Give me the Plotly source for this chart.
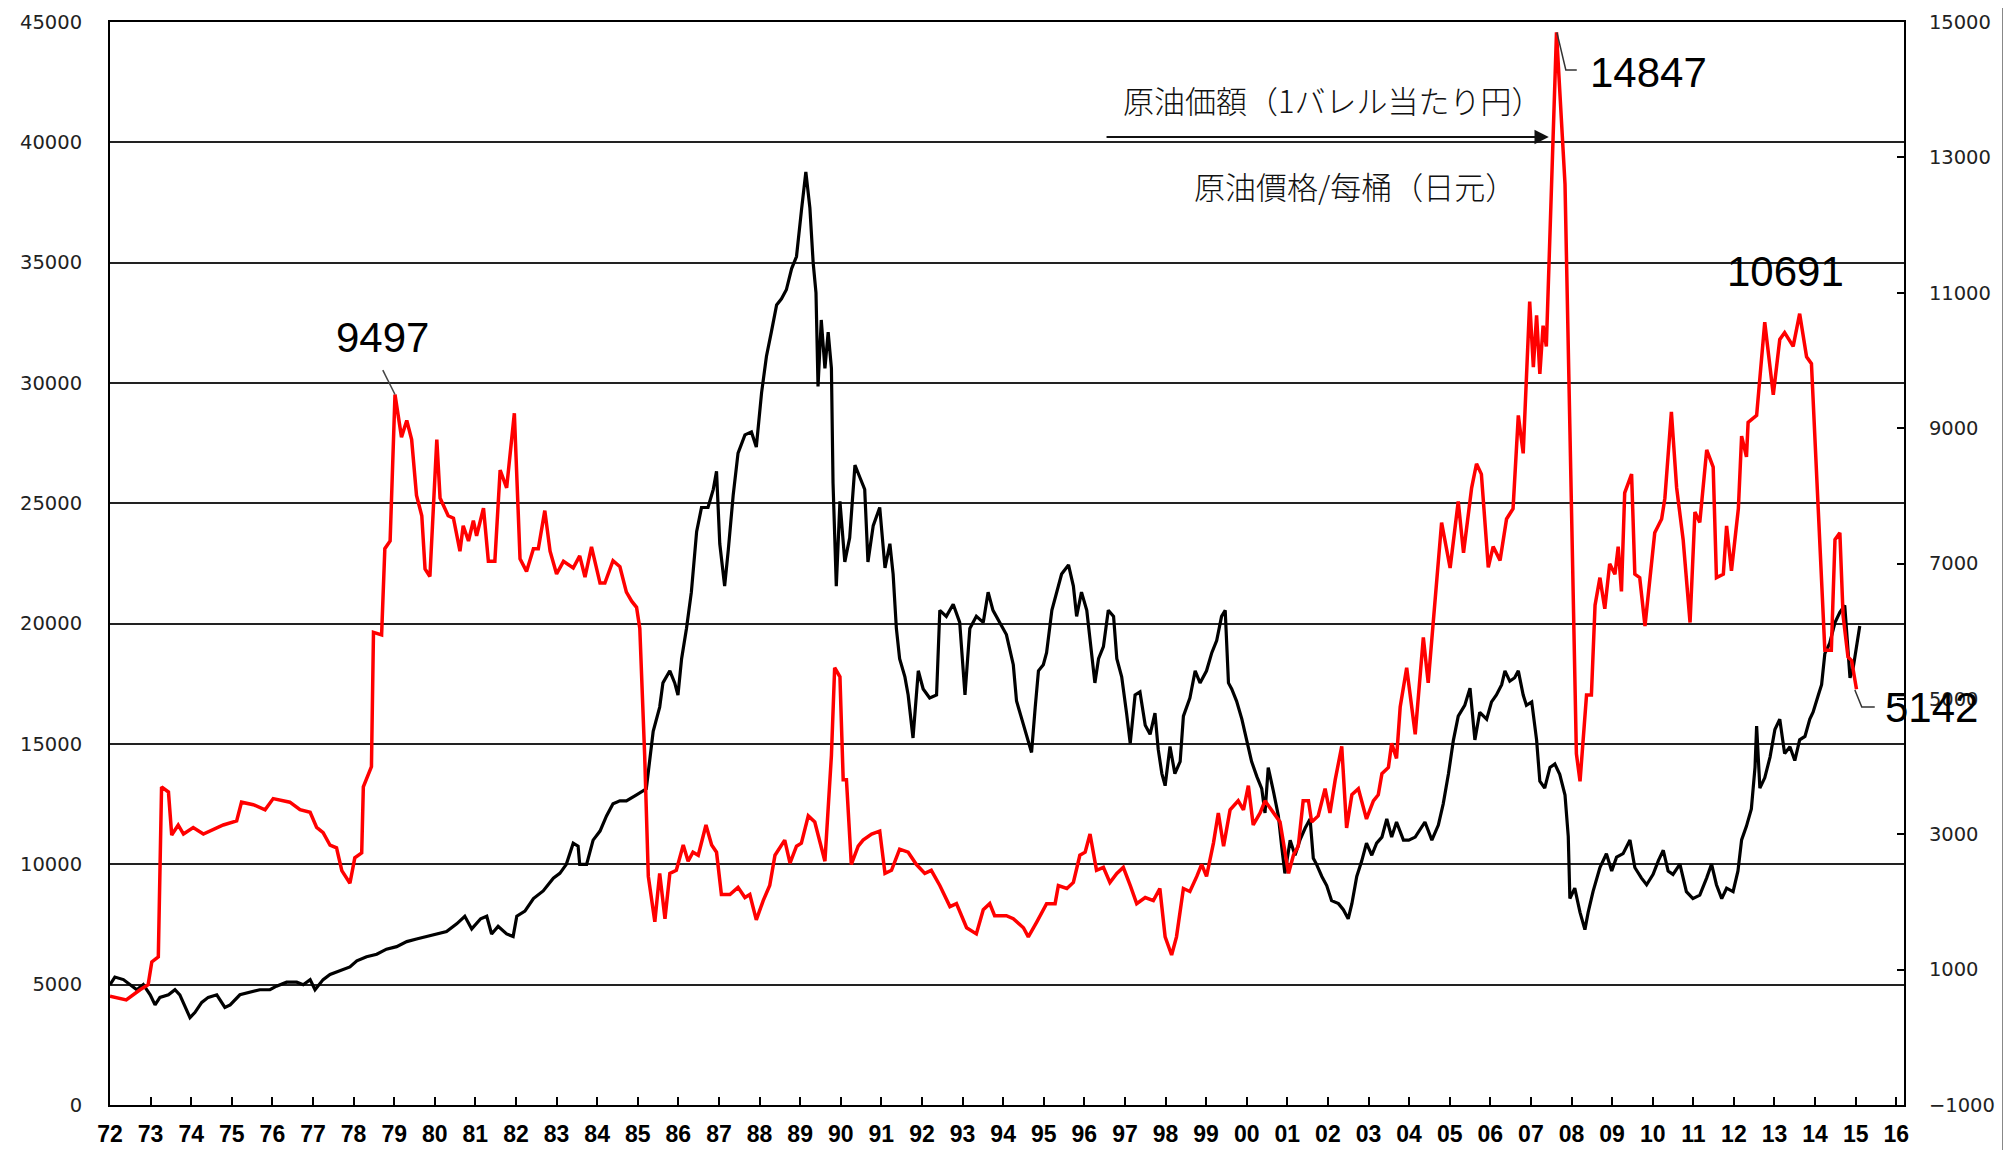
import plotly.graph_objects as go

# ---------------- data ----------------
tick_years = list(range(1972, 2017))
tick_labels = [f"{y % 100:02d}" for y in tick_years]

left_ticks = list(range(0, 45001, 5000))
right_ticks = list(range(-1000, 15001, 2000))

# Nikkei 225 (left axis)
nikkei_x = [
    1972.0, 1972.12, 1972.33, 1972.49, 1972.66, 1972.82, 1972.99, 1973.11, 1973.23, 1973.44,
    1973.6, 1973.72, 1973.85, 1973.97, 1974.09, 1974.26, 1974.42, 1974.63, 1974.83, 1974.96,
    1975.2, 1975.45, 1975.69, 1975.94, 1976.1, 1976.35, 1976.6, 1976.76, 1976.93, 1977.05,
    1977.25, 1977.42, 1977.66, 1977.91, 1978.08, 1978.32, 1978.57, 1978.81, 1979.06, 1979.31,
    1979.55, 1979.8, 1980.05, 1980.29, 1980.54, 1980.74, 1980.91, 1981.13, 1981.28, 1981.4,
    1981.56, 1981.77, 1981.93, 1982.02, 1982.22, 1982.43, 1982.67, 1982.92, 1983.08, 1983.24,
    1983.41, 1983.53, 1983.57, 1983.74, 1983.9, 1984.07, 1984.23, 1984.39, 1984.56, 1984.72,
    1984.97, 1985.21, 1985.38, 1985.54, 1985.62, 1985.79, 1985.91, 1985.99, 1986.08, 1986.2,
    1986.32, 1986.45, 1986.57, 1986.73, 1986.86, 1986.94, 1987.02, 1987.14, 1987.23, 1987.35,
    1987.47, 1987.64, 1987.8, 1987.92, 1988.05, 1988.17, 1988.29, 1988.42, 1988.54, 1988.66,
    1988.79, 1988.91, 1989.03, 1989.14, 1989.24, 1989.32, 1989.39, 1989.44, 1989.52, 1989.61,
    1989.69, 1989.77, 1989.81, 1989.89, 1989.98, 1990.1, 1990.22, 1990.35, 1990.47, 1990.59,
    1990.67, 1990.8, 1990.96, 1991.09, 1991.21, 1991.29, 1991.37, 1991.45, 1991.58, 1991.66,
    1991.78, 1991.91, 1992.03, 1992.19, 1992.36, 1992.44, 1992.6, 1992.77, 1992.93, 1993.06,
    1993.18, 1993.34, 1993.51, 1993.63, 1993.75, 1993.92, 1994.08, 1994.25, 1994.33, 1994.46,
    1994.58, 1994.7, 1994.79, 1994.87, 1994.99, 1995.07, 1995.2, 1995.32, 1995.44, 1995.61,
    1995.73, 1995.81, 1995.93, 1996.06, 1996.18, 1996.26, 1996.35, 1996.47, 1996.59, 1996.72,
    1996.8, 1996.92, 1997.04, 1997.13, 1997.25, 1997.37, 1997.5, 1997.62, 1997.74, 1997.82,
    1997.91, 1997.99, 1998.11, 1998.23, 1998.36, 1998.44, 1998.6, 1998.73, 1998.85, 1999.01,
    1999.14, 1999.26, 1999.38, 1999.47, 1999.55, 1999.63, 1999.75, 1999.88, 2000.0, 2000.12,
    2000.25, 2000.37, 2000.45, 2000.53, 2000.66, 2000.78, 2000.86, 2000.94, 2001.07, 2001.19,
    2001.31, 2001.44, 2001.56, 2001.64, 2001.72, 2001.85, 2001.97, 2002.09, 2002.26, 2002.38,
    2002.5, 2002.59, 2002.71, 2002.83, 2002.95, 2003.08, 2003.2, 2003.33, 2003.45, 2003.57,
    2003.69, 2003.86, 2003.99, 2004.15, 2004.39, 2004.56, 2004.72, 2004.84, 2004.97, 2005.09,
    2005.21, 2005.37, 2005.5, 2005.62, 2005.74, 2005.91, 2006.03, 2006.15, 2006.28, 2006.36,
    2006.48, 2006.6, 2006.69, 2006.81, 2006.89, 2007.02, 2007.14, 2007.22, 2007.34, 2007.47,
    2007.59, 2007.71, 2007.84, 2007.92, 2007.96, 2008.08, 2008.21, 2008.33, 2008.41, 2008.53,
    2008.7, 2008.86, 2008.99, 2009.11, 2009.27, 2009.44, 2009.56, 2009.72, 2009.85, 2010.01,
    2010.14, 2010.26, 2010.38, 2010.5, 2010.67, 2010.83, 2010.99, 2011.16, 2011.33, 2011.45,
    2011.57, 2011.7, 2011.82, 2011.98, 2012.1, 2012.19, 2012.31, 2012.43, 2012.52, 2012.56,
    2012.64, 2012.76, 2012.89, 2013.01, 2013.13, 2013.25, 2013.38, 2013.5, 2013.62, 2013.75,
    2013.87, 2013.95, 2014.08, 2014.16, 2014.24, 2014.36, 2014.49, 2014.61, 2014.73, 2014.79,
    2014.86, 2014.94, 2015.02, 2015.1,
]
nikkei_y = [
    5000, 5316, 5211, 5000, 4789, 5000, 4579, 4158, 4473, 4579,
    4789, 4579, 4052, 3631, 3842, 4263, 4473, 4579, 4052, 4158,
    4579, 4684, 4789, 4789, 4937, 5105, 5105, 5000, 5211, 4789,
    5211, 5421, 5569, 5737, 5990, 6158, 6264, 6474, 6580, 6790,
    6895, 7001, 7106, 7211, 7527, 7843, 7317, 7738, 7843, 7106,
    7422, 7106, 7001, 7843, 8054, 8580, 8896, 9423, 9623, 10000,
    10880, 10754, 10000, 10000, 11005, 11382, 12010, 12513, 12639, 12639,
    12890, 13141, 15529, 16534, 17539, 18042, 17539, 17036, 18544, 19800,
    21309, 23822, 24827, 24827, 25581, 26335, 23319, 21560, 23068, 25330,
    27089, 27843, 27968, 27340, 29602, 31110, 32115, 33246, 33497, 33874,
    34754, 35256, 37141, 38774, 37266, 35005, 33748, 29853, 32618, 30608,
    32115, 30608, 25832, 21560, 25079, 22565, 23570, 26586, 26083, 25581,
    22565, 24073, 24827, 22314, 23319, 22062, 19800, 18544, 17790, 17036,
    15251, 18042, 17288, 16911, 17036, 20555, 20304, 20806, 20052, 17036,
    19800, 20304, 20052, 21309, 20555, 20052, 19549, 18293, 16785, 16032,
    15277, 14649, 16534, 18042, 18293, 18795, 20555, 21309, 22062, 22439,
    21560, 20304, 21309, 20555, 18795, 17539, 18544, 19047, 20555, 20304,
    18544, 17790, 16283, 15026, 17036, 17162, 15780, 15403, 16283, 14775,
    13770, 13267, 14900, 13770, 14272, 16157, 16911, 18042, 17539, 18042,
    18795, 19298, 20304, 20555, 17539, 17288, 16785, 16032, 15152, 14272,
    13644, 13141, 12136, 14021, 13016, 12010, 10754, 9623, 11005, 10377,
    11005, 11508, 11885, 10251, 10000, 9497, 9120, 8492, 8366, 8115,
    7738, 8366, 9497, 10126, 10880, 10377, 10880, 11131, 11885, 11131,
    11759, 11005, 11005, 11131, 11759, 11005, 11633, 12513, 13770, 15152,
    16157, 16605, 17322, 15172, 16319, 16032, 16749, 17036, 17466, 18039,
    17609, 17752, 18039, 17036, 16605, 16749, 15172, 13452, 13165, 14025,
    14169, 13739, 12878, 11158, 8578, 9008, 8005, 7288, 8005, 8865,
    9868, 10442, 9725, 10298, 10442, 11015, 9868, 9438, 9152, 9582,
    10155, 10585, 9725, 9582, 10012, 8865, 8578, 8722, 9438, 10012,
    9152, 8578, 9008, 8865, 9725, 11015, 11588, 12305, 14025, 15745,
    13165, 13595, 14455, 15602, 16032, 14599, 14885, 14312, 15172, 15315,
    16032, 16319, 17036, 17466, 18756, 19186, 20046, 20476, 20763, 19186,
    17752, 18183, 19043, 19903,
]

# Crude oil price, yen per barrel (right axis)
oil_x = [
    1972.0, 1972.4, 1972.74, 1972.94, 1973.03, 1973.19, 1973.27, 1973.44, 1973.52, 1973.68,
    1973.81, 1974.05, 1974.3, 1974.79, 1975.12, 1975.24, 1975.53, 1975.82, 1976.02, 1976.43,
    1976.68, 1976.93, 1977.09, 1977.25, 1977.42, 1977.58, 1977.71, 1977.91, 1978.03, 1978.2,
    1978.24, 1978.44, 1978.49, 1978.69, 1978.77, 1978.9, 1979.02, 1979.18, 1979.31, 1979.43,
    1979.55, 1979.68, 1979.76, 1979.88, 1980.05, 1980.13, 1980.33, 1980.46, 1980.62, 1980.7,
    1980.83, 1980.95, 1981.03, 1981.2, 1981.32, 1981.48, 1981.61, 1981.77, 1981.96, 1982.1,
    1982.26, 1982.43, 1982.55, 1982.71, 1982.84, 1983.0, 1983.17, 1983.41, 1983.57, 1983.7,
    1983.86, 1984.07, 1984.19, 1984.39, 1984.56, 1984.72, 1984.85, 1984.97, 1985.05, 1985.17,
    1985.26, 1985.42, 1985.54, 1985.67, 1985.79, 1985.95, 1986.12, 1986.24, 1986.36, 1986.49,
    1986.68, 1986.82, 1986.94, 1987.06, 1987.27, 1987.47, 1987.64, 1987.76, 1987.92, 1988.09,
    1988.25, 1988.38, 1988.62, 1988.75, 1988.91, 1989.03, 1989.2, 1989.36, 1989.61, 1989.77,
    1989.85, 1989.98, 1990.06, 1990.14, 1990.26, 1990.43, 1990.55, 1990.76, 1990.96, 1991.09,
    1991.25, 1991.45, 1991.66, 1991.86, 1992.07, 1992.23, 1992.44, 1992.69, 1992.85, 1993.1,
    1993.34, 1993.51, 1993.67, 1993.79, 1994.08, 1994.25, 1994.5, 1994.62, 1994.83, 1995.07,
    1995.28, 1995.36, 1995.57, 1995.73, 1995.89, 1996.02, 1996.14, 1996.3, 1996.47, 1996.63,
    1996.8, 1996.96, 1997.13, 1997.29, 1997.5, 1997.7, 1997.86, 1997.99, 1998.15, 1998.27,
    1998.44, 1998.6, 1998.77, 1998.89, 1999.01, 1999.18, 1999.3, 1999.43, 1999.59, 1999.79,
    1999.92, 2000.04, 2000.16, 2000.33, 2000.45, 2000.66, 2000.82, 2001.03, 2001.15, 2001.27,
    2001.39, 2001.52, 2001.6, 2001.76, 2001.93, 2002.05, 2002.18, 2002.34, 2002.46, 2002.59,
    2002.75, 2002.95, 2003.12, 2003.24, 2003.33, 2003.49, 2003.57, 2003.69, 2003.78, 2003.94,
    2004.15, 2004.35, 2004.47, 2004.6, 2004.8, 2005.01, 2005.21, 2005.34, 2005.54, 2005.66,
    2005.78, 2005.95, 2006.07, 2006.24, 2006.4, 2006.56, 2006.69, 2006.81, 2006.97, 2007.06,
    2007.14, 2007.22, 2007.3, 2007.38, 2007.51, 2007.63, 2007.84, 2008.0, 2008.12, 2008.21,
    2008.37, 2008.49, 2008.58, 2008.7, 2008.82, 2008.94, 2009.07, 2009.15, 2009.23, 2009.31,
    2009.48, 2009.56, 2009.68, 2009.81, 2009.93, 2010.05, 2010.22, 2010.3, 2010.46, 2010.59,
    2010.75, 2010.92, 2011.04, 2011.16, 2011.33, 2011.49, 2011.57, 2011.74, 2011.82, 2011.94,
    2012.11, 2012.19, 2012.31, 2012.35, 2012.56, 2012.76, 2012.97, 2013.13, 2013.25, 2013.46,
    2013.62, 2013.79, 2013.91, 2014.08, 2014.24, 2014.4, 2014.49, 2014.61, 2014.69, 2014.81,
    2014.9, 2015.02,
]
oil_y = [
    606, 553, 703, 778, 1115, 1190, 3699, 3624, 2988, 3137,
    3003, 3100, 3003, 3137, 3197, 3474, 3437, 3362, 3527, 3474,
    3362, 3325, 3100, 3025, 2838, 2800, 2463, 2276, 2651, 2725,
    3699, 3999, 5984, 5946, 7219, 7332, 9497, 8867, 9114, 8830,
    8006, 7706, 6920, 6808, 8830, 7968, 7706, 7669, 7182, 7557,
    7332, 7632, 7407, 7819, 7032, 7032, 8380, 8118, 9219, 7070,
    6883, 7219, 7219, 7781, 7182, 6845, 7032, 6934, 7113, 6800,
    7247, 6711, 6711, 7041, 6952, 6577, 6443, 6353, 6041, 4164,
    2377, 1707, 2422, 1752, 2422, 2467, 2842, 2601, 2735, 2690,
    3137, 2842, 2735, 2109, 2109, 2216, 2065, 2109, 1734, 2020,
    2243, 2690, 2913, 2574, 2824, 2869, 3271, 3181, 2601, 4164,
    5460, 5326, 3807, 3807, 2556, 2824, 2913, 3003, 3047, 2422,
    2467, 2779, 2735, 2556, 2422, 2467, 2243, 1931, 1975, 1618,
    1528, 1886, 1975, 1797, 1797, 1752, 1618, 1484, 1707, 1975,
    1975, 2243, 2199, 2288, 2690, 2735, 3003, 2467, 2511, 2288,
    2422, 2511, 2243, 1975, 2065, 2020, 2199, 1484, 1216, 1484,
    2199, 2154, 2377, 2556, 2377, 2869, 3315, 2824, 3360, 3494,
    3360, 3718, 3137, 3315, 3494, 3315, 3181, 2422, 2690, 2824,
    3494, 3494, 3181, 3271, 3673, 3315, 3807, 4298, 3092, 3584,
    3673, 3226, 3494, 3584, 3896, 3986, 4343, 4120, 4879, 5460,
    4477, 5907, 5237, 6175, 7604, 6934, 7917, 7158, 8117, 8474,
    8321, 6944, 7250, 7046, 7658, 7811, 9188, 8627, 10871, 9902,
    10667, 9800, 10514, 10208, 12605, 14847, 12605, 7862, 4190, 3782,
    5057, 5057, 6383, 6791, 6332, 6995, 6842, 7250, 6587, 8044,
    8321, 6842, 6791, 6077, 6791, 7454, 7658, 7964, 9239, 8117,
    7352, 6128, 7760, 7607, 8678, 8423, 6791, 6842, 7556, 6893,
    7811, 8882, 8576, 9086, 9188, 10565, 9494, 10310, 10412, 10208,
    10691, 10055, 9953, 7862, 5720, 5720, 7352, 7454, 6230, 5618,
    5567, 5142,
]

label_jp_top = "原油価額（1バレル当たり円）"
label_zh = "原油價格/每桶（日元）"

# ---------------- figure ----------------
fig = go.Figure()
fig.add_trace(go.Scatter(
    x=nikkei_x, y=nikkei_y, mode="lines", yaxis="y",
    line=dict(color="#000000", width=3.2), showlegend=False, hoverinfo="skip",
))
fig.add_trace(go.Scatter(
    x=oil_x, y=oil_y, mode="lines", yaxis="y2",
    line=dict(color="#ff0000", width=3.5), showlegend=False, hoverinfo="skip",
))

num_font = dict(family="Liberation Sans, Arial, sans-serif", size=42, color="#000000")
jp_font = dict(family="Noto Sans CJK JP, sans-serif", size=31, color="#111111", weight=300)

annotations = [
    dict(x=1978.70, y=10346, xref="x", yref="y2", text=str(oil_y[36]), showarrow=False,
         font=num_font, xanchor="center", yanchor="middle"),
    dict(x=2008.40, y=14247, xref="x", yref="y2", text=str(max(oil_y)), showarrow=False,
         font=num_font, xanchor="left", yanchor="middle"),
    dict(x=2013.28, y=11307, xref="x", yref="y2", text="10691", showarrow=False,
         font=num_font, xanchor="center", yanchor="middle"),
    dict(x=2015.67, y=4866, xref="x", yref="y2", text=str(oil_y[-1]), showarrow=False,
         font=num_font, xanchor="left", yanchor="middle"),
    dict(x=2002.12, y=41800, xref="x", yref="y", text=label_jp_top, showarrow=False,
         font=jp_font, xanchor="center", yanchor="middle"),
    dict(x=2002.67, y=38226, xref="x", yref="y", text=label_zh, showarrow=False,
         font=jp_font, xanchor="center", yanchor="middle"),
    dict(x=2007.44, y=40221, xref="x", yref="y", ax=1996.51, ay=40221, axref="x", ayref="y",
         text="", showarrow=True, arrowhead=2, arrowsize=1.3, arrowwidth=2.2, arrowcolor="#111111"),
]

shapes = [
    dict(type="line", xref="x", yref="y2", x0=1978.72, y0=9858, x1=1979.02, y1=9497,
         line=dict(color="#444444", width=1.5)),
    dict(type="path", xref="x", yref="y2",
         path="M 2007.64,14847 L 2007.86,14291 L 2008.13,14291",
         line=dict(color="#333333", width=1.5)),
    dict(type="path", xref="x", yref="y2",
         path="M 2014.98,5131 L 2015.15,4880 L 2015.47,4880",
         line=dict(color="#333333", width=1.5)),
    dict(type="line", xref="paper", yref="paper", x0=1.056, x1=1.056, y0=-0.05, y1=1.02,
         line=dict(color="#222222", width=4)),
]

axis_font = dict(family="DejaVu Sans, sans-serif", size=19.5, color="#222222")

# the page body adds an 8 px offset, so the figure is sized to fit the window
fig.update_layout(
    width=2003, height=1142,
    margin=dict(l=102, r=107, t=14, b=45),
    paper_bgcolor="white", plot_bgcolor="white",
    showlegend=False,
    xaxis=dict(
        range=[1972, 2016.19], tickvals=tick_years, ticktext=tick_labels,
        ticks="inside", ticklen=8, tickwidth=1.5, tickcolor="#000000",
        showline=True, linecolor="#000000", linewidth=2, mirror=True,
        showgrid=False, zeroline=False, automargin=False,
        tickfont=dict(family="Liberation Sans, Arial, sans-serif", size=23, color="#000000", weight="bold"),
        ticklabelstandoff=7,
    ),
    yaxis=dict(
        range=[0, 45000], tickvals=left_ticks, tickformat="d",
        showgrid=True, gridcolor="#222222", gridwidth=1.5,
        showline=True, linecolor="#000000", linewidth=2, automargin=False,
        ticks="", zeroline=False, tickfont=axis_font, ticklabelstandoff=22,
    ),
    yaxis2=dict(
        range=[-1000, 15000], tickvals=right_ticks, tickformat="d", overlaying="y", side="right",
        showgrid=False, showline=True, linecolor="#000000", linewidth=2, automargin=False,
        ticks="inside", ticklen=7, tickwidth=1.5, tickcolor="#000000",
        zeroline=False, tickfont=axis_font, ticklabelstandoff=19,
    ),
    annotations=annotations,
    shapes=shapes,
)

fig.write_html("out.html")
